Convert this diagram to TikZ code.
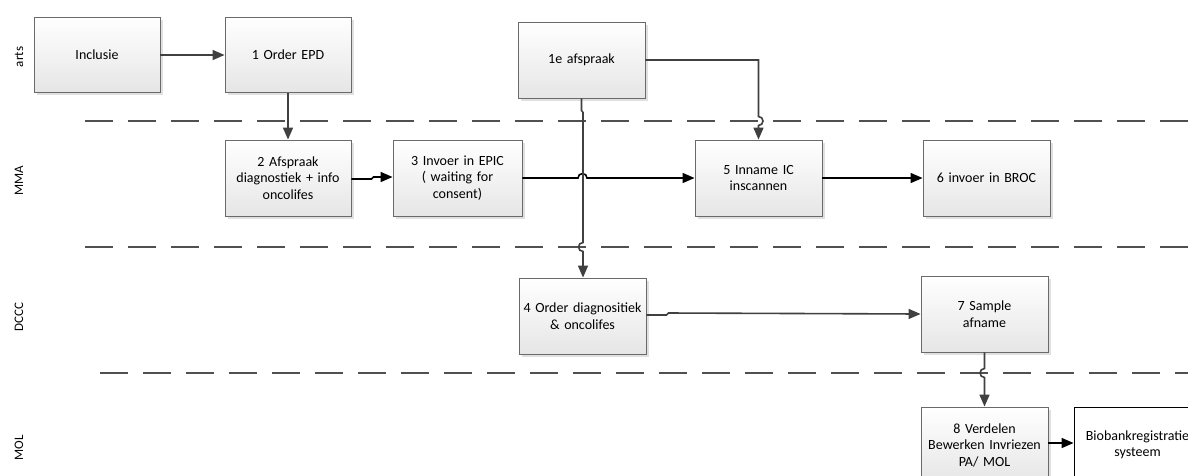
\documentclass[tikz,border=0pt]{standalone}
\usepackage{fontspec}
\setmainfont{Carlito}
\usetikzlibrary{arrows.meta,shadows,calc}
\definecolor{conn}{HTML}{404040}
\definecolor{lane}{HTML}{505050}
\definecolor{boxline}{HTML}{6A6A6A}
\tikzset{
  procbox/.style={draw=boxline, line width=0.9pt, top color=white, bottom color=black!10,
    minimum width=127pt, minimum height=76pt, inner sep=2pt, align=center,
    text width=122pt, font=\fontsize{14}{16.5}\selectfont,
    drop shadow={shadow xshift=2.5pt, shadow yshift=-2.5pt, fill=black!12, opacity=1}},
  plainbox/.style={draw=black, line width=0.9pt, fill=white,
    minimum width=127pt, minimum height=76pt, inner sep=2pt, align=center,
    text width=122pt, font=\fontsize{14}{16.5}\selectfont},
  lanesep/.style={draw=lane, line width=2pt, dash pattern=on 28pt off 15pt},
  lanelabel/.style={rotate=90, font=\fontsize{13}{15}\selectfont},
  grayarrow/.style={draw=conn, line width=1.6pt, -{Triangle[length=12pt,width=10pt]}},
  blackarrow/.style={draw=black, line width=1.6pt, -{Triangle[length=12pt,width=10pt]}}
}
\begin{document}
\begin{tikzpicture}[x=1pt,y=-1pt]
\useasboundingbox (0,0) rectangle (1188,475);
\fill[white] (0,0) rectangle (1188,475);

% lane separators
\draw[lanesep] (85,121) -- (1200,121);
\draw[lanesep] (85,247) -- (1200,247);
\draw[lanesep] (100,373) -- (1200,373);

% lane labels
\node[lanelabel] (larts) at (19,57) {arts};
\node[lanelabel] (lmma) at (19,181) {MMA};
\node[lanelabel] (ldccc) at (19,317) {DCCC};
\node[lanelabel] (lmol) at (19,448) {MOL};

% boxes
\node[procbox, minimum width=126pt, minimum height=75pt] (inc) at (97,55) {Inclusie};
\node[procbox, minimum width=126pt, minimum height=75pt] (o1) at (288,55) {1 Order EPD};
\node[procbox] (af) at (581.5,60) {1e afspraak};
\node[procbox, minimum width=126pt] (a2) at (288,178) {2 Afspraak\\diagnostiek + info\\oncolifes};
\node[procbox, minimum width=129pt] (i3) at (457.5,178) {3 Invoer in EPIC\\( waiting for\\consent)};
\node[procbox] (i5) at (758.5,178) {5 Inname IC\\inscannen};
\node[procbox] (b6) at (986.5,178) {6 invoer in BROC};
\node[procbox] (o4) at (582.5,316) {4 Order diagnositiek\\\& oncolifes};
\node[procbox] (s7) at (984.5,314) {7 Sample\\afname};
\node[procbox] (v8) at (984.5,445) {8 Verdelen\\Bewerken Invriezen\\PA/ MOL};
\node[plainbox] (bio) at (1137.5,445) {Biobankregistratie\\systeem};

% connectors
\draw[grayarrow] (inc.east) -- (o1.west);
\draw[grayarrow] (o1.south) -- (a2.north);
\draw[blackarrow] ($(a2.east)+(0,1)$) -- ++(20,0) -- ++(2,-2) -- ($(i3.west)+(0,-1)$);
\draw[blackarrow] (i3.east) -- ($(i3.east)!1!(i3.east -| af.south)+(-3.5,0)$)
   arc[start angle=180, end angle=360, radius=4.5] -- (i5.west);
\draw[blackarrow] (i5.east) -- (b6.west);
\coordinate (afturn) at (af.east -| i5.north);
\draw[grayarrow] (af.east) -- (afturn) -- ($(afturn |- 0,121)+(0,-4.5)$)
   arc[start angle=270, end angle=450, radius=4.5] -- (i5.north);
\draw[grayarrow] (af.south) -- ++(0,12) -- ($(af.south)+(1.5,14)$) -- ($(af.south |- 0,247)+(1.5,-4.5)$)
   arc[start angle=270, end angle=90, radius=4.5] -- ($(o4.north)+(0.5,0)$);
\draw[grayarrow] ($(o4.east)+(0,-1)$) -- ++(20,0) -- ++(2,-2) -- (s7.west);
\draw[grayarrow] (s7.south) -- ($(s7.south |- 0,373)+(0,-4.5)$)
   arc[start angle=270, end angle=90, radius=4.5] -- (v8.north);
\draw[blackarrow] ($(v8.east)+(0,-2)$) -- ($(bio.west)+(0,-2)$);
\end{tikzpicture}
\end{document}
